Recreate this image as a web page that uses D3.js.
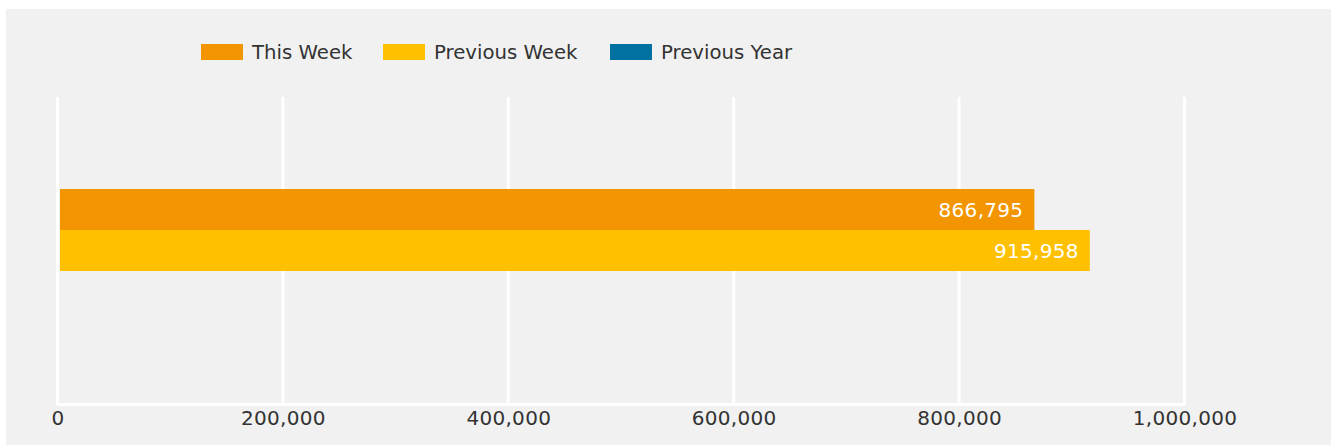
<html>
<head>
<style>
body { margin: 0; background: #fff; }
text { font-family: "DejaVu Sans", sans-serif; }
</style>
</head>
<body>
<svg id="chart"></svg>
<script src="https://cdnjs.cloudflare.com/ajax/libs/d3/7.8.5/d3.min.js"></script>
<script>

// data
var categories = ["Total"]
var seriesNames = ["This Week", "Previous Week", "Previous Year"]
var seriesColors = ["#f39500", "#ffc000", "#0071a0"]
var thisWeek = [866795]
var previousWeek = [915958]
var previousYear = [null]
var xTicks = [0, 200000, 400000, 600000, 800000, 1000000]

var values = [thisWeek, previousWeek, previousYear]

var W = 1331, H = 446
var svg = d3.select("#chart").attr("width", W).attr("height", H)

svg.append("rect")
  .attr("x", 6).attr("y", 9)
  .attr("width", W - 6).attr("height", H - 9 - 1)
  .attr("fill", "#f1f1f1")

var x = d3.scaleLinear().domain([0, 1000000]).range([57.5, 1184.5])
var y0 = d3.scaleBand().domain(categories).range([97, 404]).paddingOuter(0.748)
var y1 = d3.scaleBand().domain(seriesNames).range([0, y0.bandwidth()])
var color = d3.scaleOrdinal().domain(seriesNames).range(seriesColors)
var fmt = d3.format(",")

// grid
var grid = svg.append("g")
grid.selectAll("line.v")
  .data(xTicks)
  .enter().append("line")
  .attr("class", "v")
  .attr("x1", function(d) { return x(d) }).attr("x2", function(d) { return x(d) })
  .attr("y1", 98).attr("y2", 404)
  .attr("stroke", "#fff").attr("stroke-width", 3).attr("stroke-linecap", "round")
grid.append("line")
  .attr("x1", x(0)).attr("x2", x(1000000))
  .attr("y1", 404.5).attr("y2", 404.5)
  .attr("stroke", "#fff").attr("stroke-width", 3)

// axis labels
var xAxis = d3.axisBottom(x).tickValues(xTicks).tickFormat(fmt).tickSize(0).tickPadding(0)
var ax = svg.append("g").attr("transform", "translate(0,411)").call(xAxis)
ax.select(".domain").remove()
ax.selectAll("text")
  .attr("fill", "#333")
  .style("font-size", "20px")
  .style("letter-spacing", "0.3px")
  .style("font-family", "DejaVu Sans")

// bars
var rows = []
categories.forEach(function(c, ci) {
  seriesNames.forEach(function(s, si) {
    rows.push({ cat: c, name: s, value: values[si][ci] })
  })
})
var shown = rows.filter(function(d) { return d.value != null })

var bars = svg.append("g")
bars.selectAll("rect")
  .data(shown)
  .enter().append("rect")
  .attr("x", x(0) + 2.5)
  .attr("y", function(d) { return y0(d.cat) + y1(d.name) })
  .attr("width", function(d) { return x(d.value) - x(0) - 2.5 })
  .attr("height", y1.bandwidth())
  .attr("fill", function(d) { return color(d.name) })

bars.selectAll("text")
  .data(shown)
  .enter().append("text")
  .attr("x", function(d) { return x(d.value) - 11 })
  .attr("y", function(d) { return y0(d.cat) + y1(d.name) + y1.bandwidth() / 2 })
  .attr("dy", "0.36em")
  .attr("text-anchor", "end")
  .attr("fill", "#fff")
  .style("font-size", "20px")
  .style("letter-spacing", "0.3px")
  .text(function(d) { return fmt(d.value) })

// legend
var legX = [201, 383, 610]
var leg = svg.append("g").selectAll("g")
  .data(seriesNames)
  .enter().append("g")
  .attr("transform", function(d, i) { return "translate(" + legX[i] + ",44)" })
leg.append("rect")
  .attr("width", 42).attr("height", 16)
  .attr("fill", function(d) { return color(d) })
leg.append("text")
  .attr("x", 51).attr("y", 8).attr("dy", "0.36em")
  .attr("fill", "#333")
  .style("font-size", "19.7px")
  .text(function(d) { return d })

</script>
</body>
</html>
